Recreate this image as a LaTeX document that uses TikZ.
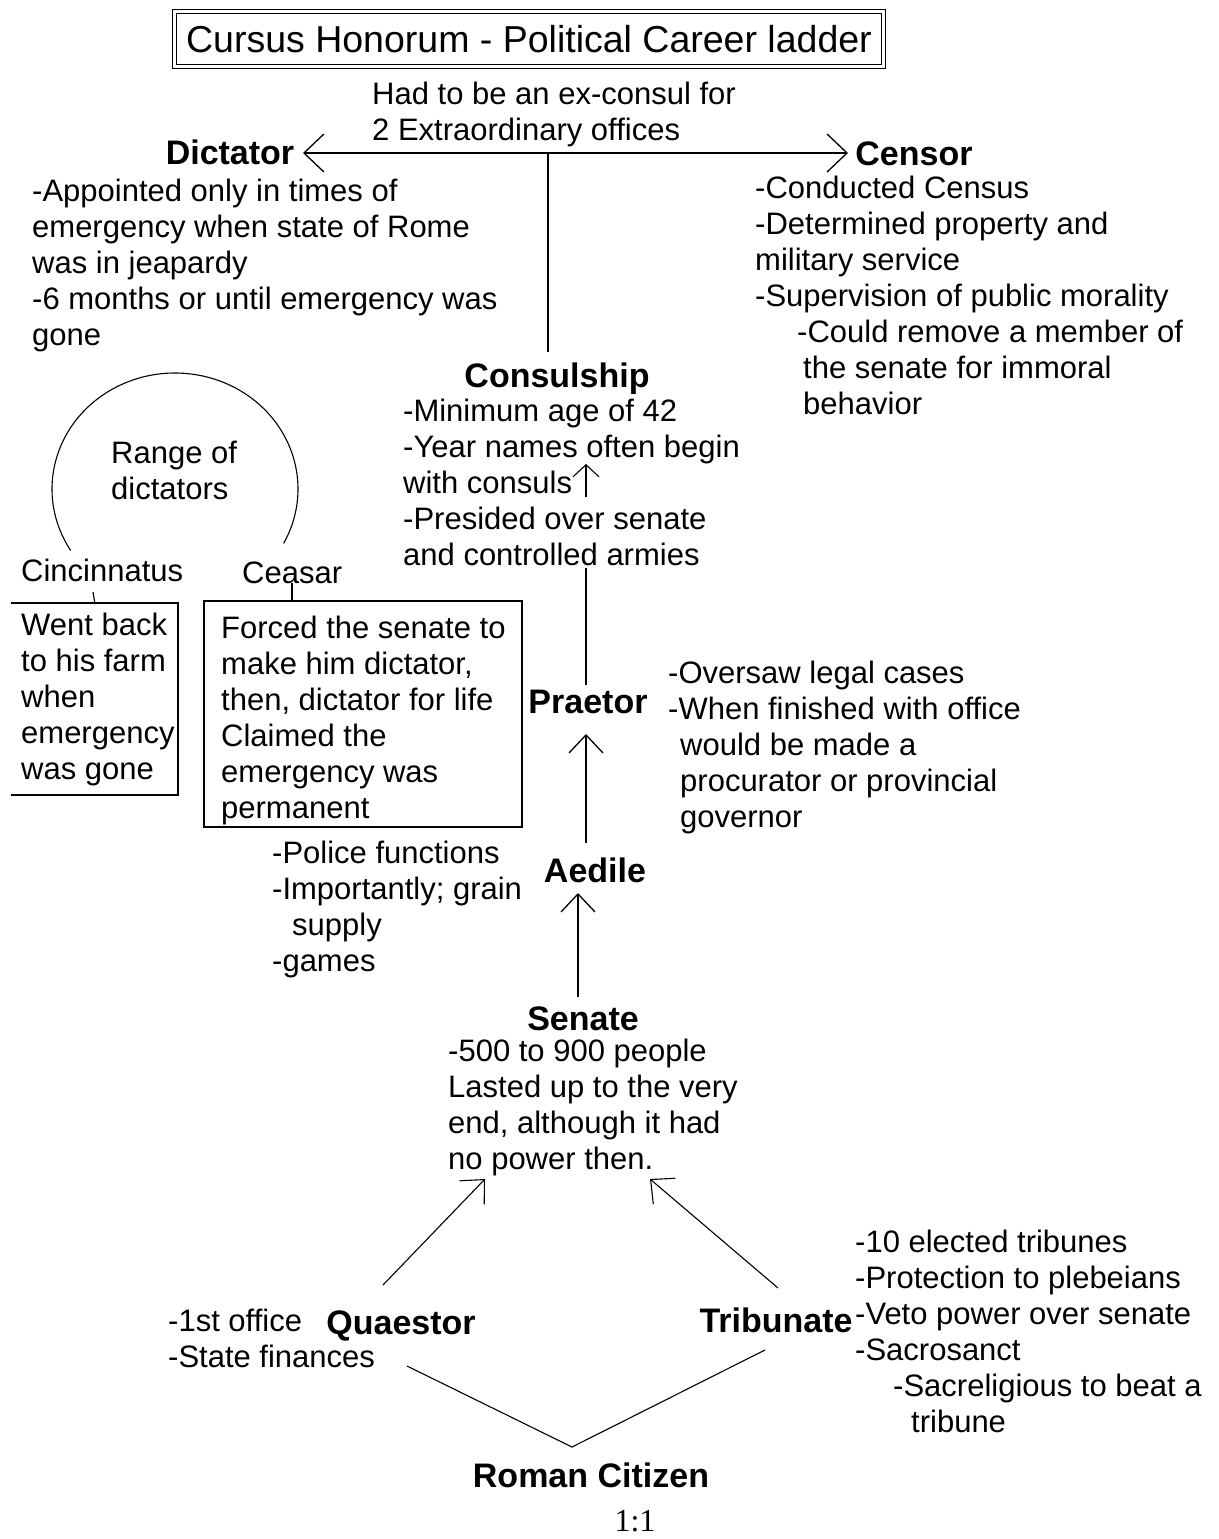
\documentclass[tikz,border=0pt]{standalone}
\usepackage{fontspec}
\setmainfont{Liberation Sans}
\newfontfamily\ratiofont{Liberation Serif}
\usetikzlibrary{arrows.meta}
\begin{document}
\begin{tikzpicture}[x=1pt,y=-1pt,
  txt/.style={anchor=north west,inner sep=0pt,align=left,font=\fontsize{31}{36}\selectfont},
  lbl/.style={inner sep=0pt,font=\fontsize{34}{40}\selectfont\bfseries,text height=24pt,text depth=0pt},
  conn/.style={line width=1.3pt,black},
  thin/.style={line width=1.1pt,black},
  barb/.style={conn,-{Straight Barb[length=18pt,width=34pt]}},
  smallbarb/.style={thin,-{Straight Barb[length=12pt,width=26pt]}},
  dbarb/.style={conn,{Straight Barb[length=20pt,width=38pt]}-{Straight Barb[length=20pt,width=38pt]}},
  boxline/.style={line width=1.4pt,black}]
\fill[white] (0,0) rectangle (1218,1539);
\useasboundingbox (0,0) rectangle (1218,1539);

% title
\node[draw,double,double distance=2.5pt,line width=1pt,minimum width=709pt,minimum height=55pt,inner sep=0pt,
  font=\fontsize{37.5}{42}\selectfont] (title) at (529,39) {Cursus Honorum - Political Career ladder};

\node[txt] (extra) at (372,82) {Had to be an ex-consul for\\2 Extraordinary offices};

% labels
\node[lbl] (dict) at (230,152) {Dictator};
\node[lbl] (cens) at (914,153) {Censor};
\node[lbl] (cons) at (557,375) {Consulship};
\node[lbl] (prae) at (588,701) {Praetor};
\node[lbl] (aed) at (595,870) {Aedile};
\node[lbl] (sen) at (583,1018) {Senate};
\node[lbl] (quae) at (401,1322) {Quaestor};
\node[lbl] (trib) at (776,1320) {Tribunate};
\node[lbl] (cit) at (591,1475) {Roman Citizen};
\node[inner sep=0pt,font=\ratiofont\fontsize{32}{36}\selectfont] (ratio) at (635,1521) {1:1};

% text blocks
\node[txt] (dtxt) at (32,179) {-Appointed only in times of\\emergency when state of Rome\\was in jeapardy\\-6 months or until emergency was\\gone};
\node[txt] (ctxt) at (755,176) {-Conducted Census\\-Determined property and\\military service\\-Supervision of public morality\\\hspace*{42pt}-Could remove a member of\\\hspace*{48pt}the senate for immoral\\\hspace*{48pt}behavior};
\node[txt] (contxt) at (403,399) {-Minimum age of 42\\-Year names often begin\\with consuls\\-Presided over senate\\and controlled armies};
\node[txt] (prtxt) at (668,661) {-Oversaw legal cases\\-When finished with office\\\hspace*{12pt}would be made a\\\hspace*{12pt}procurator or provincial\\\hspace*{12pt}governor};
\node[txt] (aetxt) at (272,841) {-Police functions\\-Importantly; grain\\\hspace*{20pt}supply\\-games};
\node[txt] (sentxt) at (448,1039) {-500 to 900 people\\Lasted up to the very\\end, although it had\\no power then.};
\node[txt] (qtxt) at (168,1309) {-1st office\\-State finances};
\node[txt] (trtxt) at (855,1230) {-10 elected tribunes\\-Protection to plebeians\\-Veto power over senate\\-Sacrosanct\\\hspace*{38pt}-Sacreligious to beat a\\\hspace*{56pt}tribune};

% range of dictators
\node[txt] (rng) at (111,441) {Range of\\dictators};
\coordinate (rc) at (175,489);
\draw[thin] ([shift={(148:123 and 116)}]rc) arc[start angle=148,end angle=388,x radius=123,y radius=116];
\node[txt] (cin) at (21,559) {Cincinnatus};
\node[txt] (cea) at (242,562) {Ceasar};
\node[txt] (cintxt) at (21,613) {Went back\\to his farm\\when\\emergency\\was gone};
\node[txt] (ceatxt) at (221,616) {Forced the senate to\\make him dictator,\\then, dictator for life\\Claimed the\\emergency was\\permanent};
\draw[boxline] (11,603) -- (178,603) -- (178,795) -- (11,795);
\draw[boxline] (204,601) rectangle (522,827);
\coordinate (cinA) at (93,592); \coordinate (cinB) at (95,604);
\draw[thin] (cinA) -- (cinB);
\coordinate (ceaA) at (292,583); \coordinate (ceaB) at (292,601);
\draw[thin] (ceaA) -- (ceaB);

% connectors
\coordinate (dtip) at (303,153);
\coordinate (ctip) at (848,153);
\draw[dbarb] (dtip) -- (ctip);
\coordinate (hub) at (548,153);
\coordinate (constop) at (548,352);
\draw[conn] (hub) -- (constop);

\coordinate (yA) at (586,497); \coordinate (yB) at (586,464);
\draw[smallbarb] (yA) -- (yB);

\coordinate (cbot) at (586,568); \coordinate (ptop) at (586,685);
\draw[conn] (cbot) -- (ptop);

\coordinate (aedtop) at (586,843); \coordinate (praebot) at (586,734);
\draw[barb] (aedtop) -- (praebot);

\coordinate (sentop) at (578,997); \coordinate (aedbot) at (578,893);
\draw[barb] (sentop) -- (aedbot);

\coordinate (qtop) at (383,1285); \coordinate (sbl) at (485,1179);
\draw[barb,line width=1.1pt] (qtop) -- (sbl);
\coordinate (ttop) at (778,1288); \coordinate (sbr) at (650,1179);
\draw[barb,line width=1.1pt] (ttop) -- (sbr);

\coordinate (qbot) at (407,1366); \coordinate (apex) at (572,1447); \coordinate (tbot) at (765,1350);
\draw[thin] (qbot) -- (apex) -- (tbot);
\end{tikzpicture}
\end{document}
